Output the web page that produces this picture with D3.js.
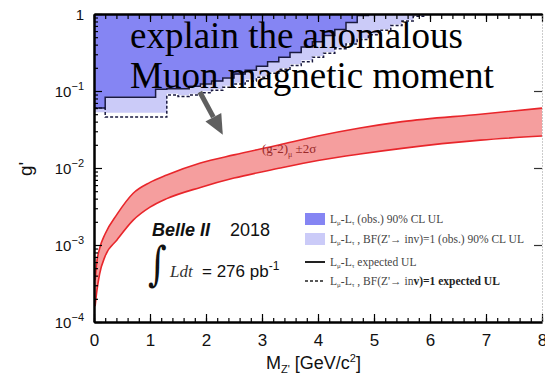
<!DOCTYPE html>
<html>
<head>
<meta charset="utf-8">
<script src="https://cdn.jsdelivr.net/npm/d3@7"></script>
<style>
  html, body { margin: 0; padding: 0; background: #fff; }
  svg { display: block; }
</style>
</head>
<body>
<svg id="chart" width="545" height="374"></svg>
<script>
// Z' mass axis ticks (GeV/c^2)
const massTicks = [0, 1, 2, 3, 4, 5, 6, 7, 8];
const massMinorTicks = d3.range(0, 8.001, 0.2);
// coupling axis decades
const couplingTicks = [1e-4, 1e-3, 1e-2, 1e-1, 1];
const couplingTickLabels = [["10", "\u22124"], ["10", "\u22123"], ["10", "\u22122"], ["10", "\u22121"], ["1", ""]];

// step-wise limits: bin start mass and g' value per bin
const binMass = [0, 0.2, 1.1, 1.3, 1.5, 1.7, 1.9, 2.1, 2.3, 2.5, 2.7, 2.9, 3.1, 3.3, 3.5,
                 3.7, 3.9, 4.1, 4.3, 4.5, 4.7, 4.9, 5.1, 5.3, 5.5, 5.7, 5.9, 8.0];
// Lmu-Ltau observed 90% CL UL (dark band lower edge)
const obsLimit = [0.060, 0.084, 0.104, 0.108, 0.106, 0.116, 0.124, 0.133, 0.150, 0.164, 0.188,
                  0.206, 0.242, 0.272, 0.318, 0.368, 0.440, 0.520, 0.640, 0.770, 0.960, 1.2,
                  1.2, 1.2, 1.2, 1.2, 1.2, 1.2];
// Lmu-Ltau, BF(Z'->inv)=1 observed 90% CL UL (light band lower edge)
const obsLimitInv = [0.053, 0.052, 0.052, 0.092, 0.088, 0.092, 0.099, 0.106, 0.117, 0.128, 0.141,
                     0.157, 0.177, 0.199, 0.222, 0.250, 0.285, 0.320, 0.367, 0.420, 0.483, 0.553,
                     0.636, 0.728, 0.835, 0.955, 1.2, 1.2];
// Lmu-Ltau expected UL (solid)
const expLimit = [0.060, 0.083, 0.105, 0.107, 0.107, 0.115, 0.123, 0.135, 0.148, 0.166, 0.186,
                  0.209, 0.240, 0.275, 0.316, 0.372, 0.437, 0.525, 0.631, 0.776, 0.955, 1.2,
                  1.2, 1.2, 1.2, 1.2, 1.2, 1.2];
// Lmu-Ltau, BF(Z'->inv)=1 expected UL (dashed)
const expLimitInv = [0.060, 0.046, 0.046, 0.089, 0.085, 0.089, 0.095, 0.102, 0.112, 0.123, 0.135,
                     0.151, 0.170, 0.191, 0.214, 0.240, 0.275, 0.309, 0.355, 0.407, 0.468, 0.537,
                     0.617, 0.708, 0.813, 0.933, 1.07, 1.2];

// (g-2)_mu +-2 sigma band
const bandMass  = [0.02, 0.05, 0.1, 0.2, 0.41, 0.7, 1.0, 1.3, 1.9, 2.5, 3.3, 4.0, 4.75, 5.5, 6.9, 8.0];
const bandLower = [0.00016, 0.00025, 0.00042, 0.00072, 0.00116, 0.0021, 0.0031, 0.0040, 0.0056,
                   0.0074, 0.0099, 0.0125, 0.0152, 0.018, 0.023, 0.026];
const bandUpper = [0.00035, 0.0006, 0.0009, 0.0014, 0.0025, 0.0047, 0.0065, 0.0081, 0.0116,
                   0.0148, 0.0199, 0.026, 0.033, 0.040, 0.050, 0.060];

const legendItems = [
  { kind: "fill", color: "#8585f3", main: " (obs.) 90% CL UL", bold: "" },
  { kind: "fill", color: "#cbcbf8", main: " , BF(Z'\u2192 inv)=1 (obs.) 90% CL UL", bold: "" },
  { kind: "solid", color: "#222", main: " expected UL", bold: "" },
  { kind: "dashed", color: "#222", main: " , BF(Z'\u2192 in", bold: "v)=1 expected UL" }
];
const legendRowOffsets = [0, 20, 43, 62];

const svg = d3.select("#chart");
const x = d3.scaleLinear().domain([0, 8]).range([94, 542]);
const y = d3.scaleLog().domain([1e-4, 1]).range([322, 14]);
const cap = v => Math.min(v, 1);

svg.append("defs").append("clipPath").attr("id", "plot")
  .append("rect").attr("x", x(0)).attr("y", y(1))
  .attr("width", x(8) - x(0)).attr("height", y(1e-4) - y(1));

const plot = svg.append("g").attr("clip-path", "url(#plot)");

const steps = vals => binMass.map((m, i) => ({ m, v: vals[i] }));
const stepArea = d3.area().curve(d3.curveStepAfter)
  .x(d => x(d.m)).y0(y(1)).y1(d => y(cap(d.v)));
const stepLine = d3.line().curve(d3.curveStepAfter)
  .x(d => x(d.m)).y(d => y(cap(d.v)));

// excluded regions
plot.append("path").attr("d", stepArea(steps(obsLimitInv))).attr("fill", "#cbcbf8");
plot.append("path").attr("d", stepArea(steps(obsLimit))).attr("fill", "#8585f3");

// (g-2) band
const band = bandMass.map((m, i) => ({ m, lo: bandLower[i], hi: bandUpper[i] }));
plot.append("path")
  .attr("d", d3.area().curve(d3.curveMonotoneX).x(d => x(d.m)).y0(d => y(d.lo)).y1(d => y(d.hi))(band))
  .attr("fill", "#f59e9e");
["lo", "hi"].forEach(k => {
  plot.append("path")
    .attr("d", d3.line().curve(d3.curveMonotoneX).x(d => x(d.m)).y(d => y(d[k]))(band))
    .attr("fill", "none").attr("stroke", "#e8262b").attr("stroke-width", 1.6);
});

// expected limits
plot.append("path").attr("d", stepLine(steps(expLimit)))
  .attr("fill", "none").attr("stroke", "#1a1a40").attr("stroke-width", 1.5);
plot.append("path").attr("d", stepLine(steps(expLimitInv)))
  .attr("fill", "none").attr("stroke", "#1a1a40").attr("stroke-width", 1.5)
  .attr("stroke-dasharray", "3,2");

// band label
const bandLabel = svg.append("text").attr("x", x(3.0)).attr("y", y(0.0158))
  .attr("font-family", "Liberation Serif").attr("font-size", 13).attr("fill", "#9a2a2a");
bandLabel.append("tspan").text("(g-2)");
bandLabel.append("tspan").attr("font-size", 8).attr("dy", 4).text("\u03bc");
bandLabel.append("tspan").attr("dy", -4).text(" \u00b12\u03c3");

// axes
const axisStyle = g => {
  g.select(".domain").attr("stroke", "#000").attr("stroke-width", 2);
  g.selectAll(".tick line").attr("stroke", "#000").attr("stroke-width", 1.2);
};
const minorY = [];
for (let e = -4; e < 0; e++) for (let k = 2; k <= 9; k++) minorY.push(k * Math.pow(10, e));

svg.append("g").attr("transform", `translate(0,${y(1e-4)})`)
  .call(d3.axisBottom(x).tickValues(massMinorTicks).tickSize(-4).tickFormat("").tickSizeOuter(0)).call(axisStyle);
svg.append("g").attr("transform", `translate(0,${y(1e-4)})`)
  .call(d3.axisBottom(x).tickValues(massTicks).tickSize(-8).tickSizeOuter(0).tickPadding(12))
  .call(axisStyle)
  .call(g => g.selectAll("text").attr("font-family", "Liberation Sans").attr("font-size", 17).attr("fill", "#111"));
svg.append("g").attr("transform", `translate(0,${y(1)})`)
  .call(d3.axisTop(x).tickValues(massMinorTicks).tickSize(-5).tickFormat("").tickSizeOuter(0)).call(axisStyle);
svg.append("g").attr("transform", `translate(0,${y(1)})`)
  .call(d3.axisTop(x).tickValues(massTicks).tickSize(-8).tickFormat("").tickSizeOuter(0)).call(axisStyle);
svg.append("g").attr("transform", `translate(${x(0)},0)`)
  .call(d3.axisLeft(y).tickValues(minorY).tickSize(-4).tickFormat("").tickSizeOuter(0)).call(axisStyle);
svg.append("g").attr("transform", `translate(${x(0)},0)`)
  .call(d3.axisLeft(y).tickValues(couplingTicks).tickSize(-8).tickFormat("").tickSizeOuter(0)).call(axisStyle);
const right = svg.append("g").attr("transform", `translate(${x(8)},0)`)
  .call(d3.axisRight(y).tickValues(couplingTicks.slice(1, 4)).tickSize(-8).tickFormat("").tickSizeOuter(0));
right.select(".domain").attr("stroke", "#999").attr("stroke-width", 1).attr("stroke-dasharray", "1,2");
right.selectAll(".tick line").attr("stroke", "#333").attr("stroke-width", 1.2);

// y tick labels with exponents
couplingTicks.forEach((v, i) => {
  const [base, exp] = couplingTickLabels[i];
  const t = svg.append("text").attr("x", 84).attr("y", y(v) + 6)
    .attr("text-anchor", "end").attr("font-family", "Liberation Sans")
    .attr("font-size", 15).attr("fill", "#111");
  t.append("tspan").text(base);
  if (exp) t.append("tspan").attr("font-size", 11).attr("dy", -7).text(exp);
});

// axis titles
const xt = svg.append("text").attr("x", 266).attr("y", 369)
  .attr("font-family", "Liberation Sans").attr("font-size", 18).attr("fill", "#111");
xt.append("tspan").text("M");
xt.append("tspan").attr("font-size", 11).attr("dy", 4).text("Z'");
xt.append("tspan").attr("dy", -4).text(" [GeV/c");
xt.append("tspan").attr("font-size", 11).attr("dy", -7).text("2");
xt.append("tspan").attr("dy", 7).text("]");

svg.append("text").attr("transform", "translate(32,176) rotate(-90)")
  .attr("font-family", "Liberation Sans").attr("font-size", 19).attr("fill", "#111").text("g'");

// Belle II annotation
svg.append("text").attr("x", 152).attr("y", 236).attr("font-family", "Liberation Sans")
  .attr("font-size", 18).attr("font-weight", "bold").attr("font-style", "italic")
  .attr("fill", "#111").text("Belle II");
svg.append("text").attr("x", 230).attr("y", 236).attr("font-family", "Liberation Sans")
  .attr("font-size", 18).attr("fill", "#111").text("2018");
svg.append("text").attr("transform", "translate(148,280) scale(0.9,1.18)")
  .attr("font-family", "DejaVu Serif").attr("font-size", 40).attr("fill", "#111").text("\u222b");
svg.append("text").attr("x", 170).attr("y", 277).attr("font-family", "Liberation Serif")
  .attr("font-size", 17).attr("font-style", "italic").attr("fill", "#333").text("Ldt");
const lum = svg.append("text").attr("x", 202).attr("y", 277).attr("font-family", "Liberation Sans")
  .attr("font-size", 17).attr("fill", "#111");
lum.append("tspan").text("= 276 pb");
lum.append("tspan").attr("font-size", 12).attr("dy", -7).text("-1");

// legend
const lg = svg.append("g").attr("transform", "translate(305,213)");
legendItems.forEach((d, i) => {
  const g = lg.append("g").attr("transform", `translate(0,${legendRowOffsets[i]})`);
  if (d.kind === "fill") {
    g.append("rect").attr("width", 20).attr("height", 12).attr("fill", d.color);
  } else {
    g.append("line").attr("x1", 0).attr("x2", 20).attr("y1", 6).attr("y2", 6)
      .attr("stroke", d.color).attr("stroke-width", d.kind === "solid" ? 2 : 1.5)
      .attr("stroke-dasharray", d.kind === "dashed" ? "3,2" : null);
  }
  const t = g.append("text").attr("x", 25).attr("y", 10).attr("font-family", "Liberation Serif")
    .attr("font-size", 11.5).attr("fill", "#444");
  t.append("tspan").text("L");
  t.append("tspan").attr("font-size", 7).attr("dy", 2).text("\u03bc");
  t.append("tspan").attr("dy", -2).text("-L");
  t.append("tspan").attr("font-size", 7).attr("dy", 2).text("\u03c4");
  t.append("tspan").attr("dy", -2).text(d.main);
  if (d.bold) t.append("tspan").attr("font-weight", "bold").attr("fill", "#222").text(d.bold);
});

// annotation text and arrow
const note = svg.append("g").attr("font-family", "Liberation Serif").attr("font-size", 37).attr("fill", "#000");
note.append("text").attr("x", 130).attr("y", 48).text("explain the anomalous");
note.append("text").attr("x", 130).attr("y", 88).text("Muon magnetic moment");

const a0 = [x(1.89), y(0.097)], a1 = [x(2.30), y(0.027)];
const ang = Math.atan2(a1[1] - a0[1], a1[0] - a0[0]);
const headLen = 20, headW = 9;
const base = [a1[0] - headLen * Math.cos(ang), a1[1] - headLen * Math.sin(ang)];
svg.append("line").attr("x1", a0[0]).attr("y1", a0[1]).attr("x2", base[0]).attr("y2", base[1])
  .attr("stroke", "#5f5f5f").attr("stroke-width", 5);
svg.append("path").attr("fill", "#5f5f5f").attr("d", d3.line()([
  a1,
  [base[0] + headW * Math.sin(ang), base[1] - headW * Math.cos(ang)],
  [base[0] - headW * Math.sin(ang), base[1] + headW * Math.cos(ang)]
]) + "Z");
</script>
</body>
</html>
